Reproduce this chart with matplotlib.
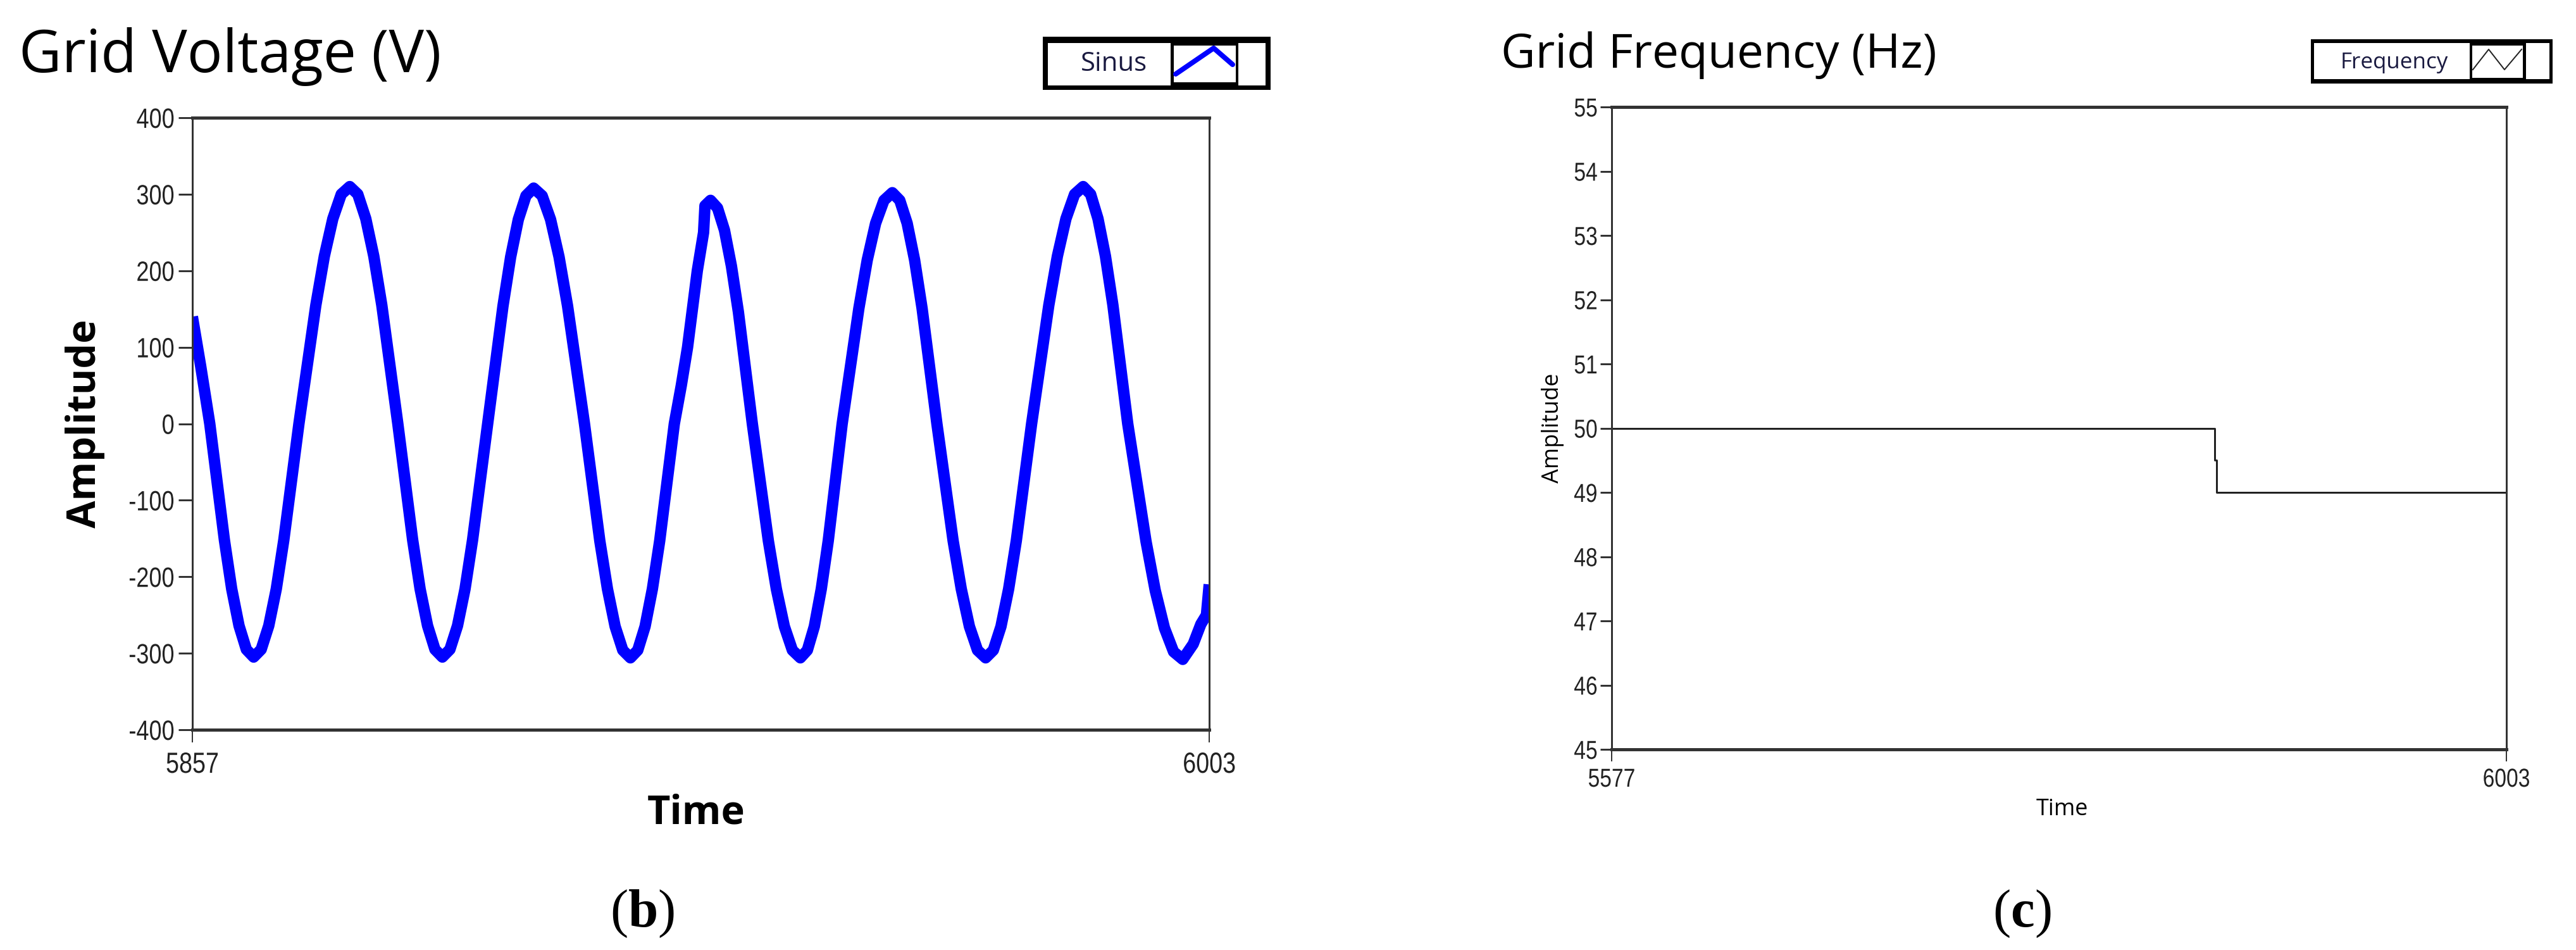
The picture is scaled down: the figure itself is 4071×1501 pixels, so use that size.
#!/usr/bin/env python3
"""Grid voltage and grid frequency panels, LabVIEW front-panel style."""

import matplotlib

matplotlib.use("Agg")
import matplotlib.pyplot as plt
from matplotlib.patches import Rectangle
from matplotlib.patheffects import AbstractPathEffect
from matplotlib.transforms import Affine2D

W, H = 4071, 1501
DPI = 100

# ---- data ------------------------------------------------------------------
volt_t = [
    5857.0, 5858.2, 5859.5, 5861.6, 5862.65, 5863.7, 5864.75, 5865.8,
    5866.88, 5867.97, 5869.05, 5870.13, 5872.3, 5874.73, 5875.95, 5877.17, 5878.38, 5879.6,
    5880.75, 5881.9, 5883.05, 5884.2, 5886.5, 5888.63, 5889.7, 5890.77, 5891.83, 5892.9,
    5893.98, 5895.07, 5896.15, 5897.23, 5899.4, 5901.6, 5902.7, 5903.8, 5904.9, 5906.0,
    5907.22, 5908.43, 5909.65, 5910.87, 5913.3, 5915.5, 5916.6, 5917.7, 5918.8, 5919.9,
    5920.95, 5922.0, 5923.05, 5924.1, 5926.2, 5927.2, 5928.1, 5929.5, 5930.4, 5930.6, 5931.4,
    5932.4, 5933.4, 5934.4, 5935.4, 5937.4, 5939.7, 5940.85, 5942.0, 5943.15, 5944.3,
    5945.3, 5946.3, 5947.3, 5948.3, 5950.3, 5952.7, 5953.9, 5955.1, 5956.3, 5957.5,
    5958.57, 5959.63, 5960.7, 5961.77, 5963.9, 5966.23, 5967.4, 5968.57, 5969.73, 5970.9,
    5972.0, 5973.1, 5974.2, 5975.3, 5977.5, 5979.97, 5981.2, 5982.43, 5983.67, 5984.9,
    5985.97, 5987.03, 5988.1, 5989.17, 5991.3, 5993.93, 5995.25, 5996.57, 5997.88, 5999.2,
    6000.7, 6001.8, 6002.6, 6003.0,
]
volt_v = [
    140, 75, 0, -152, -216, -264, -295, -305,
    -295, -264, -216, -152, 0, 155, 219, 268, 300, 310,
    300, 268, 219, 155, 0, -152, -216, -264, -295, -305,
    -295, -264, -216, -152, 0, 154, 218, 267, 298, 308,
    298, 267, 218, 154, 0, -153, -216, -265, -296, -306,
    -296, -265, -216, -153, 0, 50, 100, 200, 250, 285, 292,
    282, 253, 206, 146, 0, -153, -216, -265, -296, -306,
    -296, -265, -216, -153, 0, 151, 214, 262, 292, 302,
    292, 262, 214, 151, 0, -153, -216, -265, -296, -306,
    -296, -265, -216, -153, 0, 155, 219, 268, 300, 310,
    300, 268, 219, 155, 0, -154, -218, -267, -298, -308,
    -288, -262, -250, -210,
]

freq_t = [5577, 5864, 5865, 6003]
freq_v = [50.0, 49.5, 49.0, 49.0]

volt_xticks = [5857, 6003]
volt_yticks = [400, 300, 200, 100, 0, -100, -200, -300, -400]
freq_xticks = [5577, 6003]
freq_yticks = [55, 54, 53, 52, 51, 50, 49, 48, 47, 46, 45]

TICK_FONT = ["Liberation Sans", "DejaVu Sans"]
UI_FONT = ["Open Sans", "DejaVu Sans"]
SPINE = "#333333"
TICK_COLOR = "#222222"


class Condense(AbstractPathEffect):
    """Squeeze glyphs horizontally (LabVIEW draws its scale labels narrow)."""

    def __init__(self, sx=0.82, anchor="center"):
        super().__init__()
        self.sx = sx
        self.anchor = anchor

    def draw_path(self, renderer, gc, tpath, affine, rgbFace=None):
        ext = tpath.get_extents()
        cx = ext.x1 if self.anchor == "right" else 0.5 * (ext.x0 + ext.x1)
        squeeze = Affine2D().translate(-cx, 0).scale(self.sx, 1).translate(cx, 0)
        renderer.draw_path(gc, tpath, squeeze + affine, rgbFace)


def pt(px):
    """Pixel size at the output resolution -> points."""
    return px * 72.0 / DPI


def axes_rect(left, top, right, bottom):
    return [left / W, 1 - bottom / H, (right - left) / W, (bottom - top) / H]


def style_axes(ax, ytick_len, xtick_len, ypad, xpad):
    for side in ("top", "bottom"):
        ax.spines[side].set_linewidth(pt(5))
        ax.spines[side].set_color(SPINE)
    for side in ("left", "right"):
        ax.spines[side].set_linewidth(pt(3))
        ax.spines[side].set_color(SPINE)
    ax.tick_params(axis="y", direction="out", length=pt(ytick_len), width=pt(3),
                   color=SPINE, pad=pt(ypad))
    ax.tick_params(axis="x", direction="out", length=pt(xtick_len), width=pt(2),
                   color=SPINE, pad=pt(xpad))


def set_scale_ticks(ax, xticks, yticks, x_px, y_px):
    ax.set_xticks(xticks, labels=[str(v) for v in xticks], fontfamily=TICK_FONT,
                  fontsize=pt(x_px), color=TICK_COLOR,
                  path_effects=[Condense(anchor="center")])
    ax.set_yticks(yticks, labels=[str(v) for v in yticks], fontfamily=TICK_FONT,
                  fontsize=pt(y_px), color=TICK_COLOR,
                  path_effects=[Condense(anchor="right")])


def draw_legend_box(ov, box, cells, icon_cell):
    x0, y0, x1, y1 = box
    ov.add_patch(Rectangle((x0, y0), x1 - x0, y1 - y0, fc="black", ec="none"))
    for cx0, cy0, cx1, cy1 in cells + [icon_cell]:
        ov.add_patch(Rectangle((cx0, cy0), cx1 - cx0, cy1 - cy0, fc="white", ec="none"))


def main():
    plt.rcParams["mathtext.fontset"] = "custom"
    plt.rcParams["mathtext.rm"] = "Liberation Serif"
    plt.rcParams["mathtext.bf"] = "Liberation Serif:bold"

    fig = plt.figure(figsize=(W / DPI, H / DPI), dpi=DPI)
    fig.patch.set_facecolor("white")

    # overlay in pixel coordinates for the LabVIEW style legend boxes
    ov = fig.add_axes([0, 0, 1, 1])
    ov.set_xlim(0, W)
    ov.set_ylim(H, 0)
    ov.axis("off")

    # ---- (b) grid voltage --------------------------------------------------
    ax_v = fig.add_axes(axes_rect(304, 186, 1911, 1153))
    ax_v.plot(volt_t, volt_v, color="#0000FF", lw=pt(18),
              solid_joinstyle="round", solid_capstyle="butt")
    ax_v.set_xlim(volt_xticks[0], volt_xticks[-1])
    ax_v.set_ylim(min(volt_yticks), max(volt_yticks))
    set_scale_ticks(ax_v, volt_xticks, volt_yticks, x_px=46, y_px=44)
    style_axes(ax_v, ytick_len=22, xtick_len=20, ypad=6, xpad=14)
    ax_v.set_ylabel("Amplitude", fontsize=pt(63), fontweight="bold",
                    fontfamily=UI_FONT, va="center")
    ax_v.yaxis.set_label_coords((134 - 304) / 1607, 0.5)
    ax_v.set_xlabel("Time", fontsize=pt(63), fontweight="bold",
                    fontfamily=UI_FONT, va="center")
    ax_v.xaxis.set_label_coords((1100 - 304) / 1607, (1153 - 1285) / 967)

    fig.text(30 / W, 1 - 114 / H, "Grid Voltage (V)", fontsize=pt(93),
             fontfamily=UI_FONT, ha="left", va="baseline")

    draw_legend_box(ov, (1648, 58, 2008, 142),
                    [(1656, 68, 1850, 135), (1957, 68, 2000, 135)],
                    (1855, 72, 1953, 130))
    ov.plot([1858, 1918, 1948], [117, 76, 102], color="#0000FF", lw=pt(8),
            solid_joinstyle="round", solid_capstyle="round")
    ov.text(1760, 112, "Sinus", fontsize=pt(42), fontfamily=UI_FONT,
            ha="center", va="baseline", color="#1a1a40")

    # ---- (c) grid frequency ------------------------------------------------
    ax_f = fig.add_axes(axes_rect(2547, 169, 3961, 1184))
    ax_f.step(freq_t, freq_v, where="post", color="#222222", lw=pt(3))
    ax_f.set_xlim(freq_xticks[0], freq_xticks[-1])
    ax_f.set_ylim(min(freq_yticks), max(freq_yticks))
    set_scale_ticks(ax_f, freq_xticks, freq_yticks, x_px=41, y_px=41)
    style_axes(ax_f, ytick_len=18, xtick_len=19, ypad=4, xpad=10)
    ax_f.set_ylabel("Amplitude", fontsize=pt(36), fontfamily=UI_FONT, va="center")
    ax_f.yaxis.set_label_coords((2454 - 2547) / 1414, 0.5)
    ax_f.set_xlabel("Time", fontsize=pt(36), fontfamily=UI_FONT, va="center")
    ax_f.xaxis.set_label_coords((3259 - 2547) / 1414, (1184 - 1279) / 1015)

    fig.text(2372 / W, 1 - 107 / H, "Grid Frequency (Hz)", fontsize=pt(75),
             fontfamily=UI_FONT, ha="left", va="baseline")

    draw_legend_box(ov, (3652, 62, 4034, 132),
                    [(3657, 68, 3903, 125), (3992, 68, 4029, 125)],
                    (3907, 72, 3987, 123))
    ov.plot([3908, 3933, 3958, 3985], [110, 78, 110, 78], color="#222222", lw=pt(2))
    ov.text(3784, 108, "Frequency", fontsize=pt(35), fontfamily=UI_FONT,
            ha="center", va="baseline", color="#1a1a40")

    # ---- panel captions ----------------------------------------------------
    for x, letter in ((1015, "b"), (3195, "c")):
        fig.text(x / W, 1 - 1444 / H, r"($\mathbf{%s}$)" % letter,
                 fontsize=pt(85), fontfamily="Liberation Serif",
                 ha="center", va="center")

    fig.savefig("out.png", dpi=DPI, facecolor="white")


if __name__ == "__main__":
    main()
